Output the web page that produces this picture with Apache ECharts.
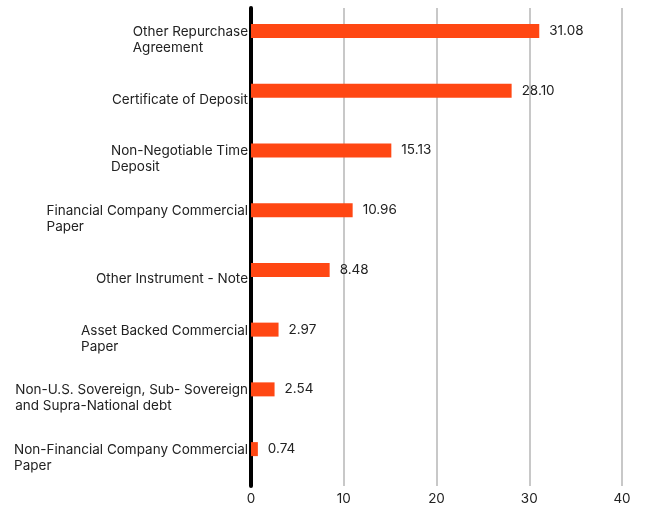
<!DOCTYPE html>
<html>
<head>
<meta charset="utf-8">
<script src="https://cdn.jsdelivr.net/npm/echarts@6/dist/echarts.min.js"></script>
<style>
html,body{margin:0;padding:0;background:#fff;}
#chart{width:645px;height:507px;}
</style>
</head>
<body>
<div id="chart"></div>
<script>
var categories = [
  "Other Repurchase\nAgreement",
  "Certificate of Deposit",
  "Non-Negotiable Time\nDeposit",
  "Financial Company Commercial\nPaper",
  "Other Instrument - Note",
  "Asset Backed Commercial\nPaper",
  "Non-U.S. Sovereign, Sub- Sovereign\nand Supra-National debt",
  "Non-Financial Company Commercial\nPaper"
];
var values = [31.08, 28.10, 15.13, 10.96, 8.48, 2.97, 2.54, 0.74];
var placeholder = [null, null, null, null, null, null, null, null];
var xTicks = [0, 10, 20, 30, 40];

var chart = echarts.init(document.getElementById('chart'), null, {renderer: 'canvas'});
var FONT = 'Inter, "Noto Sans", sans-serif';
chart.setOption({
  animation: false,
  textStyle: {fontFamily: FONT},
  grid: {left: 251, right: 23, top: 8, bottom: 21, containLabel: false},
  xAxis: {
    type: 'value',
    min: xTicks[0],
    max: xTicks[xTicks.length - 1],
    interval: 10,
    axisLine: {show: false},
    axisTick: {show: false},
    axisLabel: {color: '#222', fontSize: 13.5, fontFamily: FONT, margin: 6},
    splitLine: {show: true, lineStyle: {color: '#c8c8c8', width: 2}}
  },
  yAxis: {
    type: 'category',
    inverse: true,
    data: categories,
    axisLine: {show: true, lineStyle: {color: '#000', width: 4}},
    axisTick: {show: false},
    axisLabel: {
      margin: 3,
      padding: [4, 0, 0, 0],
      formatter: function (v) {
        return v.split('\n').map(function (s) { return '{a|' + s + '}'; }).join('\n');
      },
      rich: {a: {align: 'left', color: '#222', fontSize: 13.5, lineHeight: 16, fontFamily: FONT}}
    }
  },
  series: [
    {
      type: 'bar',
      data: values,
      barWidth: 14,
      barGap: '0%',
      itemStyle: {color: '#ff4713'},
      label: {
        show: true,
        position: 'right',
        distance: 10,
        color: '#222',
        fontSize: 13.5,
        fontFamily: FONT,
        formatter: function (p) { return p.value.toFixed(2); }
      }
    },
    {
      type: 'bar',
      data: placeholder,
      barWidth: 14,
      barGap: '0%',
      itemStyle: {color: '#ff4713'}
    }
  ]
});
</script>
</body>
</html>
